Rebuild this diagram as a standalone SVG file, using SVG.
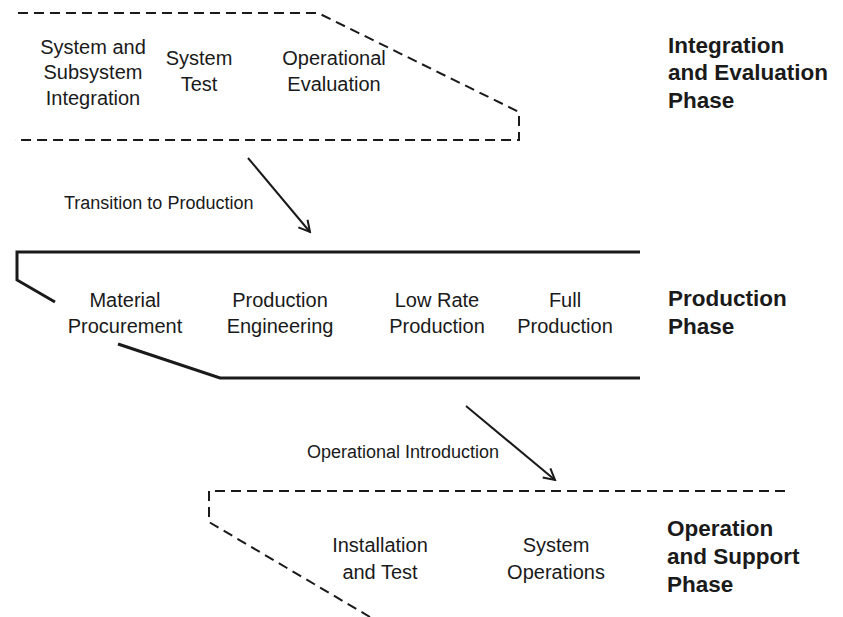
<svg xmlns="http://www.w3.org/2000/svg" width="843" height="617" viewBox="0 0 843 617">
<style>
.t{font-family:"Liberation Sans",Arial,sans-serif;font-size:20px;fill:#1a1a1a;text-anchor:middle}
.b{font-family:"Liberation Sans",Arial,sans-serif;font-size:22.5px;font-weight:bold;fill:#1a1a1a}
.s{font-family:"Liberation Sans",Arial,sans-serif;font-size:18px;fill:#1a1a1a}
.dash{fill:none;stroke:#1a1a1a;stroke-width:2;stroke-dasharray:10 6}
.solid{fill:none;stroke:#1a1a1a;stroke-width:3}
.arr{fill:none;stroke:#1a1a1a;stroke-width:2}
</style>
<defs>
<marker id="ah" markerWidth="14" markerHeight="14" refX="12" refY="7" orient="auto" markerUnits="userSpaceOnUse">
<path d="M1,1 L12,7 L1,13" fill="none" stroke="#1a1a1a" stroke-width="2"/>
</marker>
</defs>
<g id="integration">
<path class="dash" d="M18,13 L318,13 L519,112 L519,140 L15,140"/>
<text class="t" x="93" y="54">System and</text>
<text class="t" x="93" y="79">Subsystem</text>
<text class="t" x="93" y="105">Integration</text>
<text class="t" x="199" y="65">System</text>
<text class="t" x="199" y="91">Test</text>
<text class="t" x="334" y="65">Operational</text>
<text class="t" x="334" y="91">Evaluation</text>
<text class="b" x="668" y="53">Integration</text>
<text class="b" x="668" y="80">and Evaluation</text>
<text class="b" x="668" y="108">Phase</text>
</g>
<g id="production">
<path class="solid" d="M640,252 L17,252 L17,280 L55,302"/>
<path class="solid" d="M118,344 L220,378 L640,378"/>
<text class="t" x="125" y="307">Material</text>
<text class="t" x="125" y="333">Procurement</text>
<text class="t" x="280" y="307">Production</text>
<text class="t" x="280" y="333">Engineering</text>
<text class="t" x="437" y="307">Low Rate</text>
<text class="t" x="437" y="333">Production</text>
<text class="t" x="565" y="307">Full</text>
<text class="t" x="565" y="333">Production</text>
<text class="b" x="668" y="306">Production</text>
<text class="b" x="668" y="334">Phase</text>
</g>
<g id="operation">
<path class="dash" d="M785,491 L209,491 L209,522 L370,617"/>
<text class="t" x="380" y="552">Installation</text>
<text class="t" x="380" y="579">and Test</text>
<text class="t" x="556" y="552">System</text>
<text class="t" x="556" y="579">Operations</text>
<text class="b" x="667" y="536">Operation</text>
<text class="b" x="667" y="564">and Support</text>
<text class="b" x="667" y="592">Phase</text>
</g>
<g id="connectors">
<line class="arr" x1="248" y1="158" x2="310" y2="232" marker-end="url(#ah)"/>
<text class="s" x="64" y="209">Transition to Production</text>
<line class="arr" x1="466" y1="406" x2="555" y2="480" marker-end="url(#ah)"/>
<text class="s" x="307" y="458">Operational Introduction</text>
</g>
</svg>
